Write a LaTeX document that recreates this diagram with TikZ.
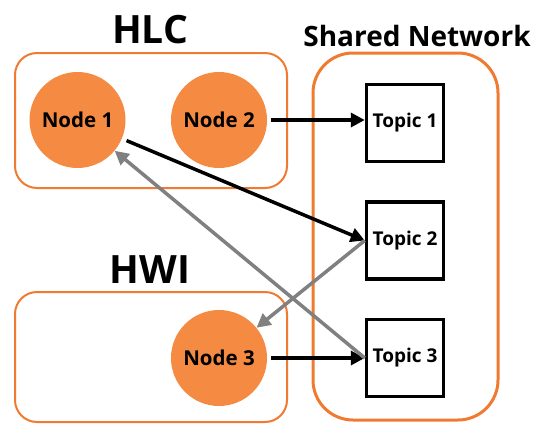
\documentclass[tikz,border=0pt]{standalone}
\usepackage{fontspec}
\setmainfont{Open Sans}
\usetikzlibrary{arrows.meta}
\definecolor{orfill}{RGB}{245,138,66}
\definecolor{orline}{RGB}{240,122,48}
\definecolor{arrgray}{RGB}{128,128,128}
\tikzset{
  grp/.style={draw=orline, line width=2pt, rounded corners=22pt},
  ttl/.style={font=\bfseries\fontsize{39}{41}\selectfont, inner sep=0pt},
  rosnode/.style={circle, fill=orfill, minimum size=96pt, inner sep=0pt, font=\bfseries\fontsize{20.5}{22}\selectfont},
  topic/.style={draw=black, line width=3.5pt, minimum size=77pt, inner sep=0pt, font=\bfseries\fontsize{19}{20}\selectfont},
  blk/.style={draw=black, line width=3.5pt, -{Triangle[length=14pt,width=14pt]}},
  gry/.style={draw=arrgray, line width=3.5pt, -{Triangle[length=14pt,width=14pt]}}
}
\begin{document}
\begin{tikzpicture}[x=1pt,y=-1pt]
\useasboundingbox (0,0) rectangle (539,424);
% groups
\draw[grp] (15,53) rectangle (287,188);
\draw[grp] (15,292) rectangle (287,422);
\draw[grp, line width=3pt, rounded corners=40pt] (313,53) rectangle (498,420);
% titles
\node[ttl] (hlc) at (150,30) {HLC};
\node[ttl] (hwi) at (150,270) {HWI};
\node[ttl, font=\bfseries\fontsize{28}{30}\selectfont] (shn) at (417,36) {Shared Network};
% nodes
\node[rosnode] (n1) at (77.5,120) {Node 1};
\node[rosnode] (n2) at (219,120) {Node 2};
\node[rosnode] (n3) at (219,358) {Node 3};
% topics
\node[topic] (t1) at (405,123) {Topic 1};
\node[topic] (t2) at (405,240.5) {Topic 2};
\node[topic] (t3) at (405,358) {Topic 3};
% connectors
\draw[blk, shorten <=4pt] (n2) -- (t1.west |- n2);
\draw[blk, shorten <=4pt] (n3) -- (t3.west |- n3);
\draw[blk, shorten <=5pt] (n1) -- (t2.west);
\draw[gry] (t2.west) -- (n3);
\draw[gry] (t3.west) -- (n1);
\end{tikzpicture}
\end{document}
